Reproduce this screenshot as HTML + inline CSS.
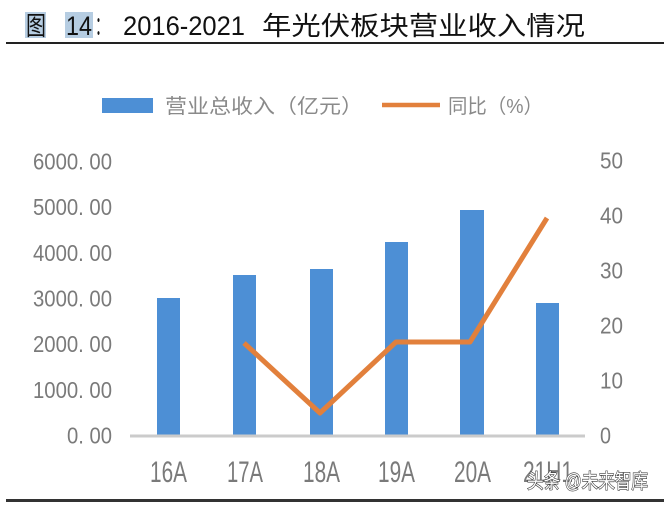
<!DOCTYPE html>
<html>
<head>
<meta charset="utf-8">
<style>
  html, body { margin:0; padding:0; background:#ffffff; }
  body { width:664px; height:506px; overflow:hidden; }
  svg { display:block; }
  .cjk { font-family: "Liberation Sans", "Noto Sans CJK SC", sans-serif; }
  .num { font-family: "Liberation Sans", "DejaVu Sans", sans-serif; }
</style>
</head>
<body>
<svg width="664" height="506" viewBox="0 0 664 506" xmlns="http://www.w3.org/2000/svg">
  <rect x="0" y="0" width="664" height="506" fill="#ffffff"/>

  <!-- Title -->
  <rect x="25" y="12" width="21" height="26" fill="#b6cde2"/>
  <rect x="65" y="12" width="28" height="26" fill="#b6cde2"/>
  <text class="cjk" x="26" y="35" font-size="26" fill="#111" textLength="20" lengthAdjust="spacingAndGlyphs">图</text>
  <text class="num" x="66" y="35" font-size="27" fill="#111" textLength="26" lengthAdjust="spacingAndGlyphs">14</text>
  <text class="cjk" x="95" y="35" font-size="26" fill="#111" textLength="14" lengthAdjust="spacingAndGlyphs">：</text>
  <text class="num" x="123" y="35" font-size="27" fill="#111" textLength="122" lengthAdjust="spacingAndGlyphs">2016-2021</text>
  <text class="cjk" x="262" y="35" font-size="26" fill="#111" textLength="323" lengthAdjust="spacingAndGlyphs">年光伏板块营业收入情况</text>
  <rect x="6" y="42" width="658" height="2" fill="#222"/>

  <!-- Legend -->
  <rect x="102" y="98" width="51" height="15" fill="#4d8fd5"/>
  <text class="cjk" x="165" y="113" font-size="20" fill="#8a8a8a" textLength="198" lengthAdjust="spacingAndGlyphs">营业总收入（亿元）</text>
  <line x1="382" y1="105" x2="440" y2="105" stroke="#e2803c" stroke-width="4.5"/>
  <text class="cjk" x="448" y="113" font-size="20" fill="#8a8a8a" textLength="95" lengthAdjust="spacingAndGlyphs">同比（%）</text>

  <!-- Left axis labels -->
  <g class="num" font-size="23" fill="#7a7a7a">
    <text x="33" y="169.5" textLength="79" lengthAdjust="spacingAndGlyphs">6000. 00</text>
    <text x="33" y="215.2" textLength="79" lengthAdjust="spacingAndGlyphs">5000. 00</text>
    <text x="33" y="260.8" textLength="79" lengthAdjust="spacingAndGlyphs">4000. 00</text>
    <text x="33" y="306.5" textLength="79" lengthAdjust="spacingAndGlyphs">3000. 00</text>
    <text x="33" y="352.2" textLength="79" lengthAdjust="spacingAndGlyphs">2000. 00</text>
    <text x="33" y="397.8" textLength="79" lengthAdjust="spacingAndGlyphs">1000. 00</text>
    <text x="67" y="443.5" textLength="45" lengthAdjust="spacingAndGlyphs">0. 00</text>
  </g>

  <!-- Right axis labels -->
  <g class="num" font-size="23" fill="#7a7a7a">
    <text x="600" y="168.5" textLength="23" lengthAdjust="spacingAndGlyphs">50</text>
    <text x="600" y="223.5" textLength="23" lengthAdjust="spacingAndGlyphs">40</text>
    <text x="600" y="278.5" textLength="23" lengthAdjust="spacingAndGlyphs">30</text>
    <text x="600" y="333.5" textLength="23" lengthAdjust="spacingAndGlyphs">20</text>
    <text x="600" y="388.5" textLength="23" lengthAdjust="spacingAndGlyphs">10</text>
    <text x="600" y="443.5" textLength="11" lengthAdjust="spacingAndGlyphs">0</text>
  </g>

  <!-- Bars -->
  <g fill="#4d8fd5">
    <rect x="157" y="298" width="23" height="137"/>
    <rect x="233" y="275" width="23" height="160"/>
    <rect x="310" y="269" width="23" height="166"/>
    <rect x="385" y="242" width="23" height="193"/>
    <rect x="460" y="210" width="24" height="225"/>
    <rect x="536" y="303" width="23" height="132"/>
  </g>

  <!-- Axis line -->
  <line x1="130" y1="436" x2="585" y2="436" stroke="#cbcbcb" stroke-width="3"/>

  <!-- YoY line -->
  <polyline points="244,343 320,413 396,342 470,342 547,218" fill="none" stroke="#e2803c" stroke-width="5" stroke-linejoin="round" stroke-linecap="butt"/>

  <!-- X labels -->
  <g class="num" font-size="30" fill="#7a7a7a">
    <text x="150" y="482" textLength="37" lengthAdjust="spacingAndGlyphs">16A</text>
    <text x="227" y="482" textLength="36" lengthAdjust="spacingAndGlyphs">17A</text>
    <text x="303" y="482" textLength="37" lengthAdjust="spacingAndGlyphs">18A</text>
    <text x="378" y="482" textLength="37" lengthAdjust="spacingAndGlyphs">19A</text>
    <text x="454" y="482" textLength="37" lengthAdjust="spacingAndGlyphs">20A</text>
    <text x="523" y="482" textLength="50" lengthAdjust="spacingAndGlyphs">21H1</text>
  </g>

  <!-- Watermark -->
  <text class="cjk" x="527" y="488" font-size="20" fill="#ffffff" stroke="#333" stroke-width="1.2" paint-order="stroke" textLength="121" lengthAdjust="spacingAndGlyphs">头条 @未来智库</text>

  <!-- Bottom line -->
  <rect x="6" y="499" width="658" height="3" fill="#333"/>
</svg>
</body>
</html>
